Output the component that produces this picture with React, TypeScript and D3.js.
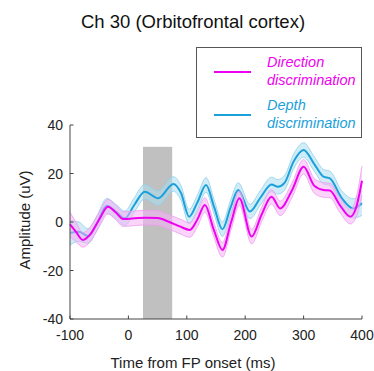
import React from 'react';
import * as d3 from 'd3';

// readings from the figure (ms, uV)
const dirTime = [-100, -90, -78, -65, -50, -35, -22, -9, 10, 30, 50, 70, 88, 105, 118, 131, 146, 161, 176, 190, 211, 228, 245, 260, 280, 300, 318, 334, 345, 362, 380, 390, 400];
const dirMean = [-1, -4, -7.4, -5, 1, 6.3, 4, 1.2, 1.5, 1.8, 1.6, 0, -1.8, -3.3, 1, 7, -3, -11.5, 0, 9.8, -6, 3, 10.4, 5.6, 13, 22.8, 15, 13.2, 13, 7, 2.2, 6, 17];
const dirSem = [5, 4, 3, 3, 3, 3, 3, 3, 3, 3, 3, 3, 3, 3, 3, 3, 3, 3, 3, 3, 3, 3, 3, 3, 3, 3, 3, 3, 3, 3, 3, 4, 6];

const depTime = [-100, -85, -69, -55, -37, -20, -6, 10, 28, 51, 77, 90, 104, 118, 133, 147, 161, 175, 188, 208, 226, 245, 256, 267, 283, 300, 318, 334, 345, 365, 385, 400];
const depMean = [-4.5, -4, -5.8, -1, 6.7, 4, 1.5, 7, 12.5, 9.8, 15.7, 12, 2.2, 8, 15.3, 6, -3, 6, 13.2, 4.3, 10, 15.5, 14.5, 16, 25, 29.7, 24, 18.7, 18, 10, 5.6, 7.7];
const depSem = [5, 4, 3, 3, 3, 3, 3, 3, 3, 3, 3, 3, 3, 3, 3, 3, 3, 3, 3, 3, 3, 3, 3, 3, 3, 3, 3, 3, 3, 3, 4, 5];

const xTicks = [-100, 0, 100, 200, 300, 400];
const yTicks = [-40, -20, 0, 20, 40];
const grayWindow = [25, 75];
const grayTop = 31;

const FONT = 'Liberation Sans, Arial, Helvetica, sans-serif';
const MAGENTA = '#f000f0';
const CYAN = '#1aa0da';

const x = d3.scaleLinear().domain([-100, 400]).range([70, 362]);
const y = d3.scaleLinear().domain([-40, 40]).range([319, 125]);

function Trace({ t, m, s, color, band, edge }: any) {
  const pts = t.map((tt: number, i: number) => ({ t: tt, m: m[i], s: s[i] }));
  const curve = d3.curveMonotoneX;
  const area = d3.area<any>().x(d => x(d.t)).y0(d => y(d.m - d.s)).y1(d => y(d.m + d.s)).curve(curve);
  const mid = d3.line<any>().x(d => x(d.t)).y(d => y(d.m)).curve(curve);
  const hi = d3.line<any>().x(d => x(d.t)).y(d => y(d.m + d.s)).curve(curve);
  const lo = d3.line<any>().x(d => x(d.t)).y(d => y(d.m - d.s)).curve(curve);
  return (
    <g>
      <path d={area(pts) || ''} fill={band} opacity={0.55} />
      <path d={hi(pts) || ''} fill="none" stroke={edge} strokeWidth={0.8} />
      <path d={lo(pts) || ''} fill="none" stroke={edge} strokeWidth={0.8} />
      <path d={mid(pts) || ''} fill="none" stroke={color} strokeWidth={2} />
    </g>
  );
}

export default function App() {
  const axisColor = '#444';
  return (
    <svg width={374} height={371} style={{ position: 'absolute', left: 0, top: 0, background: '#fff' }} fontFamily={FONT}>
      <text x={193} y={28} textAnchor="middle" fontSize={18.5} fill="#111">Ch 30 (Orbitofrontal cortex)</text>

      <rect x={x(grayWindow[0])} y={y(grayTop)} width={x(grayWindow[1]) - x(grayWindow[0])} height={y(-40) - y(grayTop)} fill="#c0c0c0" />

      <Trace t={depTime} m={depMean} s={depSem} color={CYAN} band="#a9dcf0" edge="#8fd0ea" />
      <Trace t={dirTime} m={dirMean} s={dirSem} color={MAGENTA} band="#f5b0f5" edge="#f09af0" />

      {/* axes */}
      <line x1={x(-100)} x2={x(-100)} y1={y(-40)} y2={y(40)} stroke={axisColor} strokeWidth={1} />
      <line x1={x(-100)} x2={x(400)} y1={y(-40)} y2={y(-40)} stroke={axisColor} strokeWidth={1} />
      {yTicks.map(v => (
        <g key={'y' + v}>
          <line x1={x(-100)} x2={x(-100) + 3.5} y1={y(v)} y2={y(v)} stroke={axisColor} />
          <text x={63} y={y(v) + 5} textAnchor="end" fontSize={14} fill="#222">{v}</text>
        </g>
      ))}
      {xTicks.map(v => (
        <g key={'x' + v}>
          <line x1={x(v)} x2={x(v)} y1={y(-40)} y2={y(-40) - 3.5} stroke={axisColor} />
          <text x={x(v)} y={340} textAnchor="middle" fontSize={14} fill="#222">{v}</text>
        </g>
      ))}
      <text x={193} y={368} textAnchor="middle" fontSize={15} fill="#222">Time from FP onset (ms)</text>
      <text transform="translate(30,220) rotate(-90)" textAnchor="middle" fontSize={15} fill="#222">Amplitude (uV)</text>

      {/* legend */}
      <rect x={196.5} y={47.5} width={165} height={90} fill="#fff" stroke="#555" strokeWidth={1} />
      <line x1={214} x2={251} y1={72} y2={72} stroke={MAGENTA} strokeWidth={2} />
      <line x1={214} x2={251} y1={115} y2={115} stroke={CYAN} strokeWidth={2} />
      <text x={267} fontSize={14.5} fontStyle="italic" fill={MAGENTA}>
        <tspan x={267} y={67}>Direction</tspan>
        <tspan x={267} y={85}>discrimination</tspan>
      </text>
      <text x={267} fontSize={14.5} fontStyle="italic" fill={CYAN}>
        <tspan x={267} y={110}>Depth</tspan>
        <tspan x={267} y={128}>discrimination</tspan>
      </text>
    </svg>
  );
}
